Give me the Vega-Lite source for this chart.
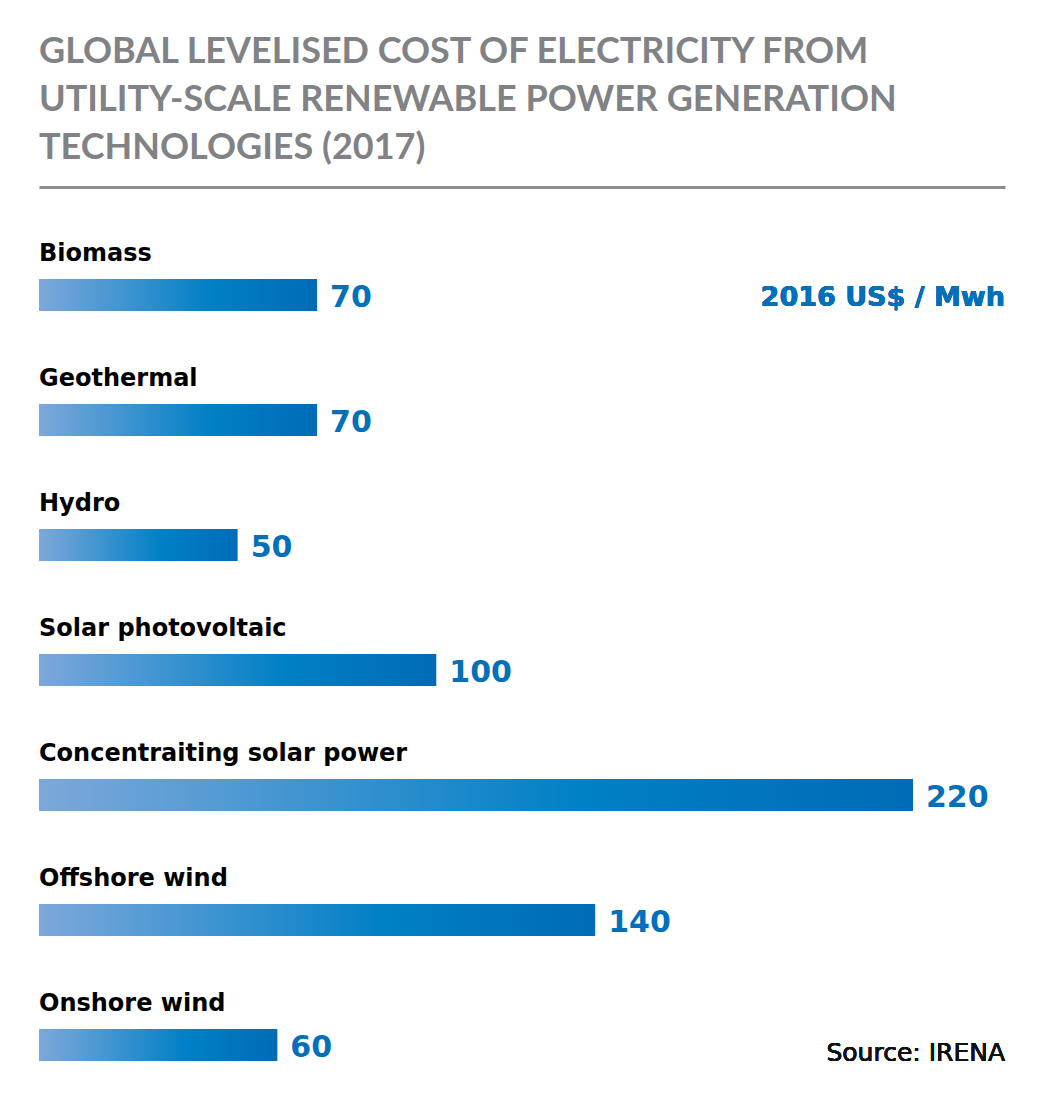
{
  "$schema": "https://vega.github.io/schema/vega-lite/v6.json",
  "autosize": {"type": "none"},
  "width": 966,
  "height": 914,
  "padding": {"left": 39, "top": 187, "right": 37, "bottom": 0},
  "background": "white",
  "config": {"view": {"stroke": null}, "font": "DejaVu Sans"},
  "title": {
    "text": ["GLOBAL LEVELISED COST OF ELECTRICITY FROM", "UTILITY-SCALE RENEWABLE POWER GENERATION", "TECHNOLOGIES (2017)"],
    "anchor": "start",
    "frame": "group",
    "font": "Lato",
    "fontSize": 36,
    "fontWeight": "bold",
    "color": "#808285",
    "lineHeight": 48,
    "offset": 20
  },
  "data": {
    "values": [
      {"technology": "Biomass", "cost": 70},
      {"technology": "Geothermal", "cost": 70},
      {"technology": "Hydro", "cost": 50},
      {"technology": "Solar photovoltaic", "cost": 100},
      {"technology": "Concentraiting solar power", "cost": 220},
      {"technology": "Offshore wind", "cost": 140},
      {"technology": "Onshore wind", "cost": 60}
    ]
  },
  "encoding": {
    "y": {
      "field": "technology",
      "type": "nominal",
      "sort": null,
      "scale": {"range": [45.5, 920.5], "paddingInner": 0, "paddingOuter": 0},
      "axis": null
    }
  },
  "layer": [
    {
      "mark": {
        "type": "bar",
        "height": 32,
        "fill": {
          "gradient": "linear",
          "x1": 0, "y1": 0, "x2": 1, "y2": 0,
          "stops": [
            {"offset": 0, "color": "#7DA8DA"},
            {"offset": 0.62, "color": "#0080C6"},
            {"offset": 1, "color": "#006BB6"}
          ]
        }
      },
      "encoding": {
        "x": {
          "field": "cost",
          "type": "quantitative",
          "scale": {"domain": [0, 243.16], "nice": false, "zero": true},
          "axis": {"orient": "top", "domain": true, "domainColor": "#8C8C8C", "domainWidth": 3, "ticks": false, "labels": false, "grid": false, "title": null}
        }
      }
    },
    {
      "mark": {"type": "text", "align": "left", "baseline": "middle", "dx": 13, "dy": 3, "font": "DejaVu Sans", "fontSize": 30, "fontWeight": "bold", "color": "#0070BA"},
      "encoding": {
        "x": {"field": "cost", "type": "quantitative"},
        "text": {"field": "cost", "type": "quantitative"}
      }
    },
    {
      "mark": {"type": "text", "align": "left", "baseline": "middle", "dy": -41, "font": "DejaVu Sans", "fontSize": 24, "fontWeight": "bold", "color": "#000000"},
      "encoding": {
        "x": {"datum": 0, "type": "quantitative"},
        "text": {"field": "technology", "type": "nominal"}
      }
    },
    {
      "mark": {"type": "text", "align": "right", "baseline": "middle", "dy": 3, "font": "DejaVu Sans", "fontSize": 27, "fontWeight": "bold", "color": "#0070BA"},
      "encoding": {
        "x": {"datum": 243.16, "type": "quantitative"},
        "y": {"datum": "Biomass"},
        "text": {"value": "2016 US$ / Mwh"}
      }
    },
    {
      "mark": {"type": "text", "align": "right", "baseline": "middle", "dy": 8, "font": "DejaVu Sans", "fontSize": 25, "fontWeight": "normal", "color": "#111111"},
      "encoding": {
        "x": {"datum": 243.16, "type": "quantitative"},
        "y": {"datum": "Onshore wind"},
        "text": {"value": "Source: IRENA"}
      }
    }
  ]
}
